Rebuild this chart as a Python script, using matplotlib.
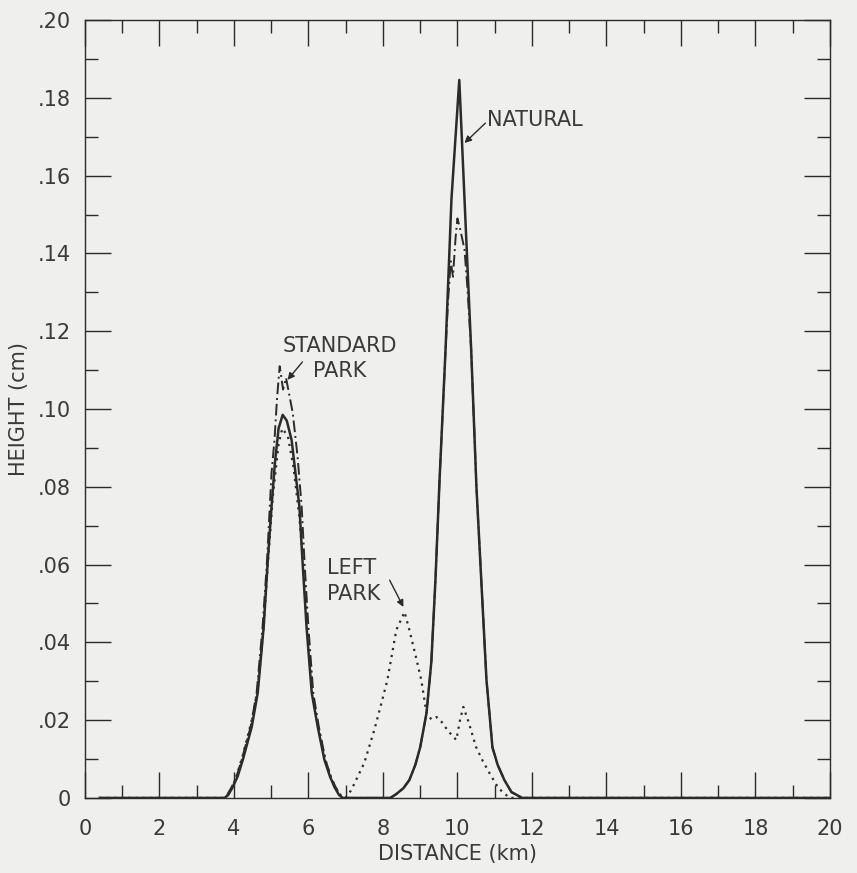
import matplotlib
matplotlib.use("Agg")
import matplotlib.pyplot as plt
from matplotlib.ticker import MultipleLocator, FixedLocator

# values (distance km, height cm)
natural_x = [0.4, 3.75, 3.85, 3.97, 4.1, 4.24, 4.48, 4.64, 4.8, 4.91, 5.01, 5.1, 5.2, 5.31,
             5.42, 5.55, 5.66, 5.76, 5.84, 5.95, 6.09, 6.25, 6.43, 6.58, 6.7, 6.82, 6.92,
             8.2, 8.36, 8.55, 8.71, 8.87, 9.0, 9.17, 9.3, 9.41, 9.52, 9.68, 9.84, 10.05,
             10.19, 10.37, 10.51, 10.64, 10.78, 10.94, 11.08, 11.26, 11.45, 11.74, 20.0]
natural_y = [0.0, 0.0, 0.0008, 0.0028, 0.0055, 0.0098, 0.0183, 0.027, 0.044, 0.061, 0.0748, 0.086,
             0.095, 0.0985, 0.097, 0.092, 0.083, 0.0748, 0.0612, 0.044, 0.027, 0.0183, 0.0098,
             0.0055, 0.0028, 0.0008, 0.0,
             0.0, 0.001, 0.0025, 0.0046, 0.0085, 0.013, 0.0218, 0.035, 0.056, 0.0817, 0.115, 0.154,
             0.1846, 0.154, 0.115, 0.08, 0.056, 0.0303, 0.013, 0.0085, 0.0046, 0.0015, 0.0, 0.0]

standard_x = [0.4, 3.72, 3.82, 3.94, 4.07, 4.21, 4.45, 4.61, 4.77, 4.89, 5.01, 5.09, 5.16, 5.23,
              5.32, 5.4, 5.5, 5.58, 5.71, 5.82, 5.9, 6.0, 6.13, 6.28, 6.46, 6.6, 6.72, 6.84, 6.92,
              8.2, 8.36, 8.55, 8.71, 8.87, 9.0, 9.17, 9.3, 9.41, 9.52, 9.68, 9.75, 9.82, 9.88,
              9.95, 10.0, 10.08, 10.19, 10.27, 10.37, 10.51, 10.64, 10.78, 10.94, 11.08,
              11.26, 11.45, 11.74, 20.0]
standard_y = [0.0, 0.0, 0.0008, 0.0028, 0.0055, 0.0098, 0.0183, 0.027, 0.044, 0.061, 0.0835, 0.092,
              0.103, 0.111, 0.105, 0.108, 0.103, 0.099, 0.0877, 0.0748, 0.06, 0.044, 0.027, 0.0183,
              0.0098, 0.0055, 0.003, 0.0008, 0.0,
              0.0, 0.001, 0.0025, 0.0046, 0.0085, 0.013, 0.0218, 0.035, 0.056, 0.0817, 0.115, 0.128,
              0.138, 0.134, 0.144, 0.149, 0.146, 0.141, 0.131, 0.115, 0.08, 0.056, 0.0303, 0.013,
              0.0085, 0.0046, 0.0015, 0.0, 0.0]

left_x = [0.4, 3.75, 3.85, 3.97, 4.1, 4.24, 4.48, 4.64, 4.8, 4.91, 5.05, 5.2, 5.3, 5.45, 5.6,
          5.76, 5.86, 5.97, 6.1, 6.27, 6.45, 6.6, 6.72, 6.86, 7.0, 7.15, 7.3, 7.5, 7.77, 7.95,
          8.12, 8.36, 8.58, 8.71, 8.88, 9.03, 9.17, 9.3, 9.44, 9.58, 9.75, 9.97, 10.08, 10.16,
          10.3, 10.5, 10.68, 10.86, 11.1, 11.4, 20.0]
left_y = [0.0, 0.0, 0.0008, 0.003, 0.0065, 0.011, 0.02, 0.028, 0.044, 0.06, 0.078, 0.091, 0.095,
          0.093, 0.085, 0.072, 0.06, 0.044, 0.027, 0.018, 0.0098, 0.0055, 0.0028, 0.0008, 0.0,
          0.002, 0.005, 0.009, 0.0175, 0.024, 0.0303, 0.0432, 0.0478, 0.0432, 0.0365, 0.0303,
          0.0218, 0.0202, 0.0208, 0.0195, 0.0172, 0.0149, 0.0205, 0.0234, 0.0195, 0.0131, 0.0095,
          0.0064, 0.0025, 0.0, 0.0]

x_ticks = list(range(0, 21, 2))
x_tick_labels = [str(v) for v in x_ticks]
y_ticks = [0.0, 0.02, 0.04, 0.06, 0.08, 0.10, 0.12, 0.14, 0.16, 0.18, 0.20]
y_tick_labels = ["0", ".02", ".04", ".06", ".08", ".10", ".12", ".14", ".16", ".18", ".20"]

ink = "#2b2b2b"
paper = "#efefed"
text_ink = "#3a3a3a"
font = 15

plt.rcParams["font.family"] = ["DejaVu Sans"]

fig = plt.figure(figsize=(8.57, 8.73), dpi=100, facecolor=paper)
ax = fig.add_axes([0.099, 0.086, 0.8695, 0.891])
ax.set_facecolor(paper)

ax.plot(natural_x, natural_y, color=ink, lw=1.8, solid_joinstyle="round")
ax.plot(standard_x, standard_y, color=ink, lw=1.4, linestyle=(0, (6, 2, 1, 2)))
ax.plot(left_x, left_y, color=ink, lw=1.6, linestyle=(0, (1, 2.2)))

ax.set_xlim(0, 20)
ax.set_ylim(0, 0.20)
ax.xaxis.set_major_locator(FixedLocator(x_ticks))
ax.xaxis.set_minor_locator(MultipleLocator(1))
ax.yaxis.set_major_locator(FixedLocator(y_ticks))
ax.yaxis.set_minor_locator(MultipleLocator(0.01))
ax.set_xticklabels(x_tick_labels)
ax.set_yticklabels(y_tick_labels)

ax.tick_params(which="both", direction="in", top=True, right=True,
               color=ink, width=1.0, labelcolor=text_ink, labelsize=font)
ax.tick_params(which="major", length=19)
ax.tick_params(which="minor", length=9.5)
ax.tick_params(axis="x", which="major", pad=15)
ax.tick_params(axis="y", which="major", pad=10)
for s in ax.spines.values():
    s.set_color(ink)
    s.set_linewidth(1.0)

ax.set_xlabel("DISTANCE (km)", fontsize=font, color=text_ink, labelpad=4)
ax.set_ylabel("HEIGHT (cm)", fontsize=font, color=text_ink, labelpad=6)

arrow = dict(arrowstyle="-|>", color=ink, lw=1.0, mutation_scale=10, shrinkA=0, shrinkB=0)

ax.text(6.84, 0.113, "STANDARD\nPARK", ha="center", va="center", multialignment="center",
        fontsize=font, color=text_ink, linespacing=1.35)
ax.annotate("", xy=(5.44, 0.1075), xytext=(5.84, 0.1121), arrowprops=arrow)

ax.text(10.8, 0.1743, "NATURAL", ha="left", va="center", fontsize=font, color=text_ink)
ax.annotate("", xy=(10.19, 0.1684), xytext=(10.75, 0.1735), arrowprops=arrow)

ax.text(6.51, 0.0558, "LEFT\nPARK", ha="left", va="center", fontsize=font, color=text_ink,
        linespacing=1.35)
ax.annotate("", xy=(8.55, 0.0491), xytext=(8.18, 0.056), arrowprops=arrow)

fig.savefig("out.png", dpi=100, facecolor=paper)
